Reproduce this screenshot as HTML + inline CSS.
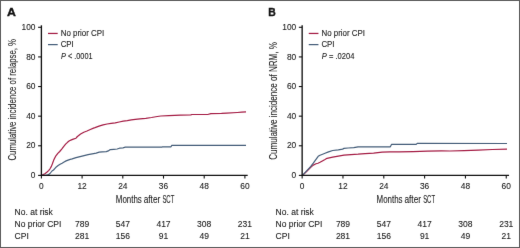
<!DOCTYPE html>
<html><head><meta charset="utf-8"><style>
html,body{margin:0;padding:0;background:#fff;}
svg{display:block;font-family:"Liberation Sans",sans-serif;will-change:transform;}
text{fill:#202020;stroke:#202020;stroke-width:0.1px;}
</style></head><body>
<svg width="520" height="248" viewBox="0 0 520 248">
<defs><filter id="bl" x="0" y="0" width="520" height="248" filterUnits="userSpaceOnUse" color-interpolation-filters="sRGB"><feConvolveMatrix order="3" kernelMatrix="0.0036 0.0528 0.0036 0.0528 0.7744 0.0528 0.0036 0.0528 0.0036" edgeMode="duplicate" preserveAlpha="true"/></filter></defs>
<g filter="url(#bl)">
<rect x="0" y="0" width="520" height="248" fill="#fff"/>
<rect x="0.5" y="0.5" width="519" height="247" fill="none" stroke="#5c5c5c" stroke-width="1"/>
<text x="7.00" y="16.5" font-size="10.7" font-weight="bold" style="fill:#111;stroke:#111;stroke-width:0.35px" transform="translate(7.00,0) scale(1.15,1) translate(-7.00,0)">A</text>
<text transform="translate(15.9,160.5) rotate(-90)" style="stroke-width:0.08px" font-size="11" textLength="121.5" lengthAdjust="spacingAndGlyphs">Cumulative incidence of relapse, %</text>
<polyline points="41.50,175.40 42.60,174.90 44.90,173.70 46.80,172.30 48.60,170.60 50.00,168.80 51.40,166.40 52.40,163.80 53.90,159.60 55.90,155.80 57.80,153.40 59.70,151.50 61.70,149.10 63.60,146.60 65.60,144.20 67.50,142.30 69.40,140.80 71.40,139.90 73.30,139.10 76.00,138.20 77.40,136.50 80.60,134.10 83.80,132.20 87.00,131.00 90.30,129.50 93.50,128.10 95.00,127.60 99.00,126.10 103.10,124.90 107.10,124.00 111.10,123.30 115.20,122.80 119.20,122.00 123.20,121.20 127.30,120.60 131.30,119.90 135.30,119.30 140.00,118.80 145.80,118.30 151.50,117.50 157.30,116.50 160.80,116.00 168.80,115.70 174.60,115.40 180.40,115.20 190.80,114.90 191.90,114.50 200.00,114.50 207.70,114.50 210.90,113.60 221.50,113.40 226.70,113.10 237.30,112.50 241.60,112.20 246.00,111.90" fill="none" stroke="#a41c44" stroke-width="1.2" stroke-linejoin="round"/>
<polyline points="41.50,175.40 46.00,175.40 48.00,174.90 50.00,173.50 52.00,171.00 53.50,170.00 55.00,168.30 56.00,167.20 58.10,165.60 60.10,164.30 62.10,163.20 64.10,162.00 66.10,160.90 68.10,160.10 70.20,159.40 72.20,158.90 76.00,157.60 80.10,156.60 84.10,155.60 88.10,154.60 92.20,153.80 96.20,153.10 99.20,152.10 102.20,151.80 106.30,151.60 108.30,150.90 110.30,149.60 113.80,149.30 117.20,149.00 119.50,148.20 123.00,147.80 125.30,147.20 161.80,147.20 162.60,146.80 171.00,146.80 171.80,145.40 246.00,145.40" fill="none" stroke="#445d79" stroke-width="1.2" stroke-linejoin="round"/>
<line x1="41.40" y1="25.3" x2="41.40" y2="176.08" stroke="#111111" stroke-width="1.35"/>
<line x1="40.73" y1="175.40" x2="247.70" y2="175.40" stroke="#111111" stroke-width="1.35"/>
<line x1="38.10" y1="175.40" x2="41.40" y2="175.40" stroke="#111111" stroke-width="1.1"/>
<text x="35.50" y="178.00" font-size="9.0" text-anchor="end" textLength="4.65" lengthAdjust="spacingAndGlyphs">0</text>
<line x1="38.10" y1="145.78" x2="41.40" y2="145.78" stroke="#111111" stroke-width="1.1"/>
<text x="35.50" y="148.38" font-size="9.0" text-anchor="end" textLength="9.31" lengthAdjust="spacingAndGlyphs">20</text>
<line x1="38.10" y1="116.16" x2="41.40" y2="116.16" stroke="#111111" stroke-width="1.1"/>
<text x="35.50" y="118.76" font-size="9.0" text-anchor="end" textLength="9.31" lengthAdjust="spacingAndGlyphs">40</text>
<line x1="38.10" y1="86.54" x2="41.40" y2="86.54" stroke="#111111" stroke-width="1.1"/>
<text x="35.50" y="89.14" font-size="9.0" text-anchor="end" textLength="9.31" lengthAdjust="spacingAndGlyphs">60</text>
<line x1="38.10" y1="56.92" x2="41.40" y2="56.92" stroke="#111111" stroke-width="1.1"/>
<text x="35.50" y="59.52" font-size="9.0" text-anchor="end" textLength="9.31" lengthAdjust="spacingAndGlyphs">80</text>
<line x1="38.10" y1="27.30" x2="41.40" y2="27.30" stroke="#111111" stroke-width="1.1"/>
<text x="35.50" y="29.90" font-size="9.0" text-anchor="end" textLength="13.96" lengthAdjust="spacingAndGlyphs">100</text>
<line x1="41.40" y1="175.40" x2="41.40" y2="178.60" stroke="#111111" stroke-width="1.1"/>
<text x="41.40" y="188.7" font-size="9.0" text-anchor="middle" textLength="4.65" lengthAdjust="spacingAndGlyphs">0</text>
<line x1="82.10" y1="175.40" x2="82.10" y2="178.60" stroke="#111111" stroke-width="1.1"/>
<text x="82.10" y="188.7" font-size="9.0" text-anchor="middle" textLength="9.31" lengthAdjust="spacingAndGlyphs">12</text>
<line x1="122.80" y1="175.40" x2="122.80" y2="178.60" stroke="#111111" stroke-width="1.1"/>
<text x="122.80" y="188.7" font-size="9.0" text-anchor="middle" textLength="9.31" lengthAdjust="spacingAndGlyphs">24</text>
<line x1="163.50" y1="175.40" x2="163.50" y2="178.60" stroke="#111111" stroke-width="1.1"/>
<text x="163.50" y="188.7" font-size="9.0" text-anchor="middle" textLength="9.31" lengthAdjust="spacingAndGlyphs">36</text>
<line x1="204.20" y1="175.40" x2="204.20" y2="178.60" stroke="#111111" stroke-width="1.1"/>
<text x="204.20" y="188.7" font-size="9.0" text-anchor="middle" textLength="9.31" lengthAdjust="spacingAndGlyphs">48</text>
<line x1="244.90" y1="175.40" x2="244.90" y2="178.60" stroke="#111111" stroke-width="1.1"/>
<text x="244.90" y="188.7" font-size="9.0" text-anchor="middle" textLength="9.31" lengthAdjust="spacingAndGlyphs">60</text>
<text x="115.80" y="202.9" style="stroke-width:0.1px" font-size="10.5" textLength="26.0" lengthAdjust="spacingAndGlyphs">Months</text>
<text x="143.70" y="202.9" style="stroke-width:0.1px" font-size="10.5" textLength="16.6" lengthAdjust="spacingAndGlyphs">after</text>
<text x="162.40" y="202.9" style="stroke-width:0.1px" font-size="10.5" textLength="11.9" lengthAdjust="spacingAndGlyphs">SCT</text>
<line x1="48.00" y1="33.45" x2="57.70" y2="33.45" stroke="#a41c44" stroke-width="1.25"/>
<line x1="48.00" y1="44.6" x2="57.70" y2="44.6" stroke="#445d79" stroke-width="1.25"/>
<text x="60.70" y="35.7" font-size="8.3" textLength="43.6" lengthAdjust="spacingAndGlyphs">No prior CPI</text>
<text x="60.70" y="47.1" font-size="8.3" textLength="13.1" lengthAdjust="spacingAndGlyphs">CPI</text>
<text x="61.00" y="58.5" font-size="8.3" textLength="31.6" lengthAdjust="spacingAndGlyphs"><tspan font-style="italic">P</tspan> &lt; .0001</text>
<text x="14.60" y="214.8" font-size="8.5">No. at risk</text>
<text x="14.60" y="227.0" font-size="8.5">No prior CPI</text>
<text x="14.60" y="239.2" font-size="8.5">CPI</text>
<text x="82.10" y="227.0" font-size="8.5" text-anchor="middle">789</text>
<text x="82.10" y="239.2" font-size="8.5" text-anchor="middle">281</text>
<text x="122.80" y="227.0" font-size="8.5" text-anchor="middle">547</text>
<text x="122.80" y="239.2" font-size="8.5" text-anchor="middle">156</text>
<text x="163.50" y="227.0" font-size="8.5" text-anchor="middle">417</text>
<text x="163.50" y="239.2" font-size="8.5" text-anchor="middle">91</text>
<text x="204.20" y="227.0" font-size="8.5" text-anchor="middle">308</text>
<text x="204.20" y="239.2" font-size="8.5" text-anchor="middle">49</text>
<text x="244.90" y="227.0" font-size="8.5" text-anchor="middle">231</text>
<text x="244.90" y="239.2" font-size="8.5" text-anchor="middle">21</text>
<text x="268.30" y="16.5" font-size="11.3" font-weight="bold" style="fill:#111;stroke:#111;stroke-width:0.35px" transform="translate(268.30,0) scale(0.92,1) translate(-268.30,0)">B</text>
<text transform="translate(276.8,159.8) rotate(-90)" style="stroke-width:0.08px" font-size="11" textLength="117.7" lengthAdjust="spacingAndGlyphs">Cumulative incidence of NRM, %</text>
<polyline points="302.60,175.40 306.80,171.40 311.00,167.10 313.30,165.10 316.00,163.80 318.00,163.20 320.00,162.30 322.80,160.70 325.00,159.50 327.00,158.30 332.70,157.20 338.30,156.20 344.00,155.20 351.00,154.60 358.10,154.20 365.10,153.60 373.60,153.10 382.10,152.20 390.00,151.90 399.10,151.90 413.20,151.60 427.30,151.20 441.40,150.90 450.00,151.00 464.10,150.60 478.20,150.20 492.30,149.50 507.00,149.20" fill="none" stroke="#a41c44" stroke-width="1.2" stroke-linejoin="round"/>
<polyline points="302.40,175.30 306.60,170.90 310.60,166.70 313.30,163.20 316.00,159.30 318.20,156.30 320.00,155.20 322.60,154.20 325.00,153.30 328.50,151.90 332.70,150.50 338.30,149.80 342.60,149.10 344.00,148.40 348.20,148.00 353.80,147.70 358.10,146.90 362.30,146.80 390.30,146.80 391.50,144.40 416.20,144.40 417.20,143.40 507.00,143.50" fill="none" stroke="#445d79" stroke-width="1.2" stroke-linejoin="round"/>
<line x1="302.15" y1="25.3" x2="302.15" y2="176.08" stroke="#111111" stroke-width="1.35"/>
<line x1="301.47" y1="175.40" x2="509.05" y2="175.40" stroke="#111111" stroke-width="1.35"/>
<line x1="298.85" y1="175.40" x2="302.15" y2="175.40" stroke="#111111" stroke-width="1.1"/>
<text x="296.25" y="178.00" font-size="9.0" text-anchor="end" textLength="4.65" lengthAdjust="spacingAndGlyphs">0</text>
<line x1="298.85" y1="145.78" x2="302.15" y2="145.78" stroke="#111111" stroke-width="1.1"/>
<text x="296.25" y="148.38" font-size="9.0" text-anchor="end" textLength="9.31" lengthAdjust="spacingAndGlyphs">20</text>
<line x1="298.85" y1="116.16" x2="302.15" y2="116.16" stroke="#111111" stroke-width="1.1"/>
<text x="296.25" y="118.76" font-size="9.0" text-anchor="end" textLength="9.31" lengthAdjust="spacingAndGlyphs">40</text>
<line x1="298.85" y1="86.54" x2="302.15" y2="86.54" stroke="#111111" stroke-width="1.1"/>
<text x="296.25" y="89.14" font-size="9.0" text-anchor="end" textLength="9.31" lengthAdjust="spacingAndGlyphs">60</text>
<line x1="298.85" y1="56.92" x2="302.15" y2="56.92" stroke="#111111" stroke-width="1.1"/>
<text x="296.25" y="59.52" font-size="9.0" text-anchor="end" textLength="9.31" lengthAdjust="spacingAndGlyphs">80</text>
<line x1="298.85" y1="27.30" x2="302.15" y2="27.30" stroke="#111111" stroke-width="1.1"/>
<text x="296.25" y="29.90" font-size="9.0" text-anchor="end" textLength="13.96" lengthAdjust="spacingAndGlyphs">100</text>
<line x1="302.15" y1="175.40" x2="302.15" y2="178.60" stroke="#111111" stroke-width="1.1"/>
<text x="302.15" y="188.7" font-size="9.0" text-anchor="middle" textLength="4.65" lengthAdjust="spacingAndGlyphs">0</text>
<line x1="342.97" y1="175.40" x2="342.97" y2="178.60" stroke="#111111" stroke-width="1.1"/>
<text x="342.97" y="188.7" font-size="9.0" text-anchor="middle" textLength="9.31" lengthAdjust="spacingAndGlyphs">12</text>
<line x1="383.79" y1="175.40" x2="383.79" y2="178.60" stroke="#111111" stroke-width="1.1"/>
<text x="383.79" y="188.7" font-size="9.0" text-anchor="middle" textLength="9.31" lengthAdjust="spacingAndGlyphs">24</text>
<line x1="424.61" y1="175.40" x2="424.61" y2="178.60" stroke="#111111" stroke-width="1.1"/>
<text x="424.61" y="188.7" font-size="9.0" text-anchor="middle" textLength="9.31" lengthAdjust="spacingAndGlyphs">36</text>
<line x1="465.43" y1="175.40" x2="465.43" y2="178.60" stroke="#111111" stroke-width="1.1"/>
<text x="465.43" y="188.7" font-size="9.0" text-anchor="middle" textLength="9.31" lengthAdjust="spacingAndGlyphs">48</text>
<line x1="506.25" y1="175.40" x2="506.25" y2="178.60" stroke="#111111" stroke-width="1.1"/>
<text x="506.25" y="188.7" font-size="9.0" text-anchor="middle" textLength="9.31" lengthAdjust="spacingAndGlyphs">60</text>
<text x="376.55" y="202.9" style="stroke-width:0.1px" font-size="10.5" textLength="26.0" lengthAdjust="spacingAndGlyphs">Months</text>
<text x="404.45" y="202.9" style="stroke-width:0.1px" font-size="10.5" textLength="16.6" lengthAdjust="spacingAndGlyphs">after</text>
<text x="423.15" y="202.9" style="stroke-width:0.1px" font-size="10.5" textLength="11.9" lengthAdjust="spacingAndGlyphs">SCT</text>
<line x1="308.75" y1="33.45" x2="318.45" y2="33.45" stroke="#a41c44" stroke-width="1.25"/>
<line x1="308.75" y1="44.6" x2="318.45" y2="44.6" stroke="#445d79" stroke-width="1.25"/>
<text x="321.45" y="35.7" font-size="8.3" textLength="43.6" lengthAdjust="spacingAndGlyphs">No prior CPI</text>
<text x="321.45" y="47.1" font-size="8.3" textLength="13.1" lengthAdjust="spacingAndGlyphs">CPI</text>
<text x="321.75" y="58.5" font-size="8.3" textLength="32.6" lengthAdjust="spacingAndGlyphs"><tspan font-style="italic">P</tspan> = .0204</text>
<text x="275.60" y="214.8" font-size="8.5">No. at risk</text>
<text x="275.60" y="227.0" font-size="8.5">No prior CPI</text>
<text x="275.60" y="239.2" font-size="8.5">CPI</text>
<text x="342.97" y="227.0" font-size="8.5" text-anchor="middle">789</text>
<text x="342.97" y="239.2" font-size="8.5" text-anchor="middle">281</text>
<text x="383.79" y="227.0" font-size="8.5" text-anchor="middle">547</text>
<text x="383.79" y="239.2" font-size="8.5" text-anchor="middle">156</text>
<text x="424.61" y="227.0" font-size="8.5" text-anchor="middle">417</text>
<text x="424.61" y="239.2" font-size="8.5" text-anchor="middle">91</text>
<text x="465.43" y="227.0" font-size="8.5" text-anchor="middle">308</text>
<text x="465.43" y="239.2" font-size="8.5" text-anchor="middle">49</text>
<text x="506.25" y="227.0" font-size="8.5" text-anchor="middle">231</text>
<text x="506.25" y="239.2" font-size="8.5" text-anchor="middle">21</text>
</g>
</svg>
</body></html>
